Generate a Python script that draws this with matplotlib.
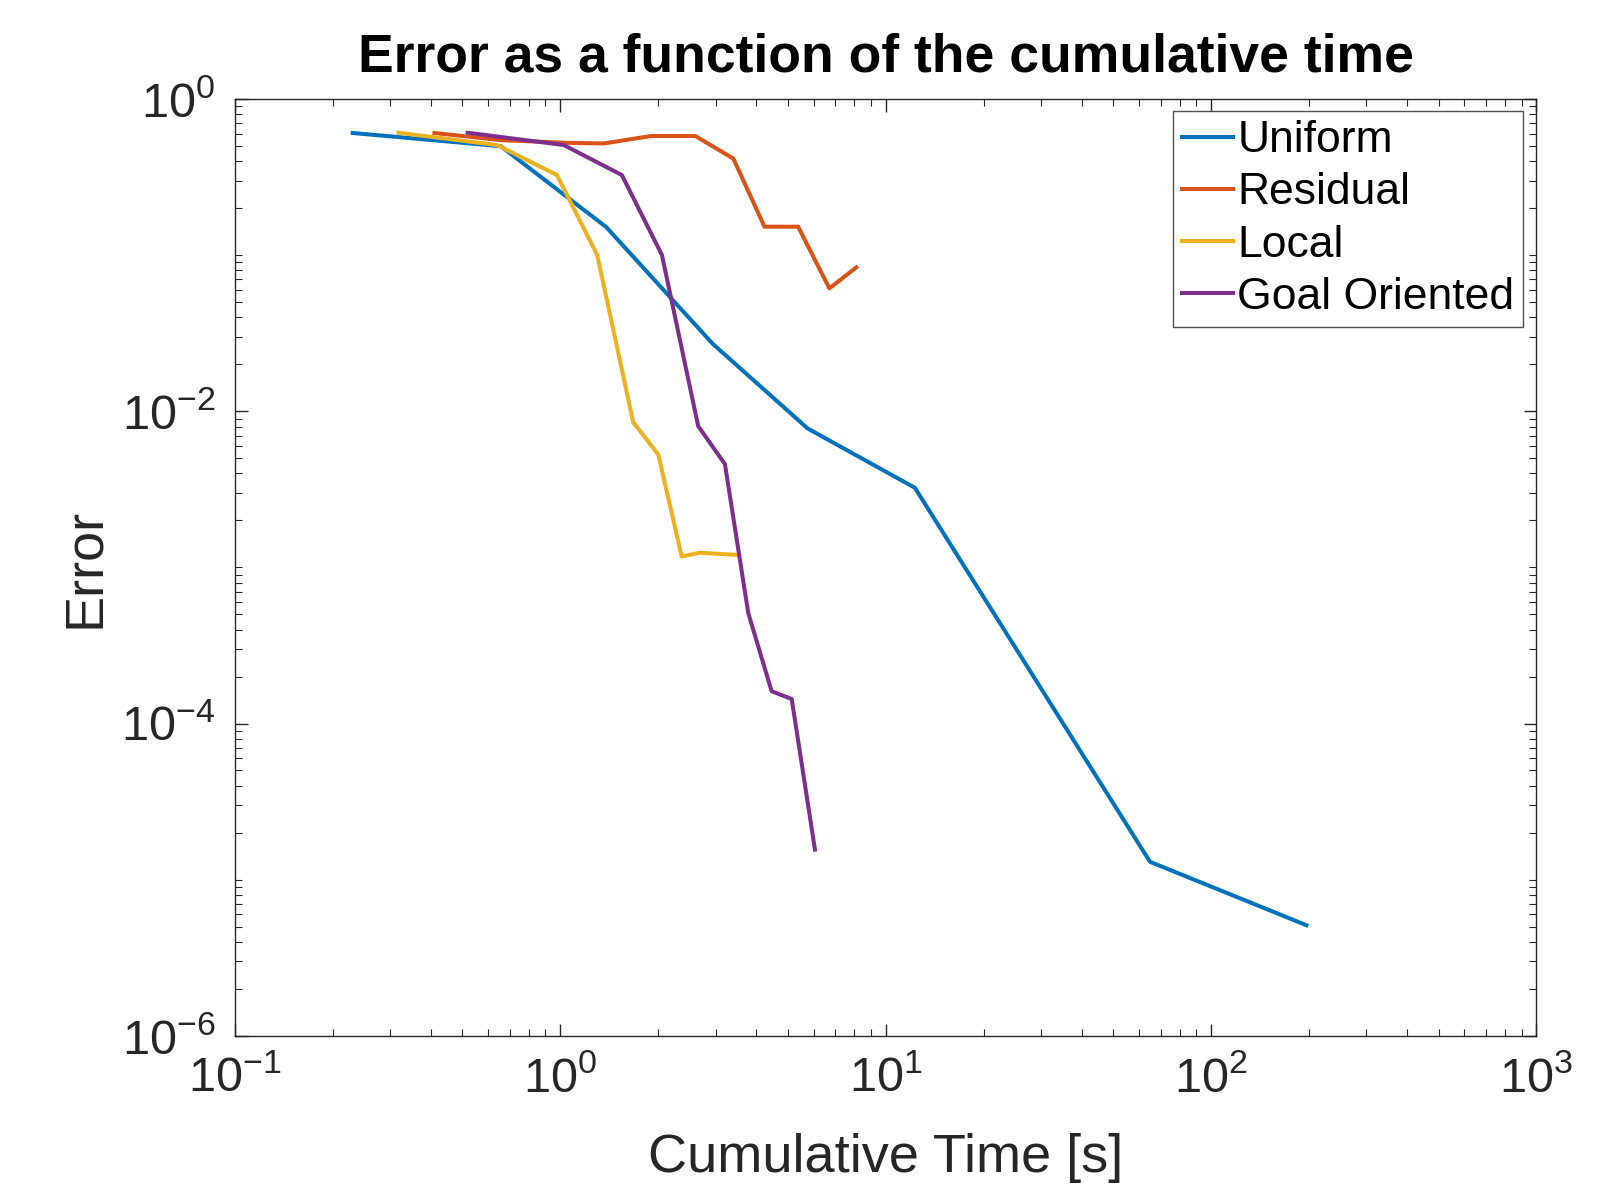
import matplotlib
matplotlib.use("Agg")
import matplotlib.pyplot as plt
from matplotlib.ticker import LogLocator, NullFormatter

plt.rcParams['font.family'] = ['Liberation Sans', 'DejaVu Sans']
plt.rcParams['mathtext.default'] = 'regular'
plt.rcParams['axes.unicode_minus'] = False

# Data
uniform_t = [0.230, 0.656, 1.382, 2.934, 5.75, 12.29, 64.9, 196.3]
uniform_e = [0.608, 0.50, 0.152, 0.0272, 0.00778, 0.00324, 1.30e-5, 5.10e-6]

residual_t = [0.410, 0.656, 1.040, 1.36, 1.896, 2.60, 3.40, 4.24, 5.38, 6.71, 8.12]
residual_e = [0.608, 0.547, 0.526, 0.521, 0.581, 0.581, 0.417, 0.1525, 0.1525, 0.0614, 0.0837]

local_t = [0.318, 0.638, 0.976, 1.298, 1.674, 2.0, 2.36, 2.685, 3.52]
local_e = [0.610, 0.509, 0.327, 0.1004, 0.00853, 0.00528, 0.001175, 0.001242, 0.001202]

goal_t = [0.519, 1.024, 1.545, 2.052, 2.652, 3.205, 3.78, 4.46, 5.14, 6.06]
goal_e = [0.610, 0.509, 0.327, 0.1004, 0.00805, 0.00459, 0.000510, 0.000161, 0.0001436, 1.556e-5]

labels = ["Uniform", "Residual", "Local", "Goal Oriented"]
colors = ["#0072BD", "#D95319", "#EDB120", "#7E2F8E"]

fig = plt.figure(figsize=(16.03, 11.93), dpi=100)
ax = fig.add_axes([0.1466, 0.1319, 0.9585 - 0.1466, 0.9168 - 0.1319])

series = [(uniform_t, uniform_e), (residual_t, residual_e), (local_t, local_e), (goal_t, goal_e)]
for (t, e), lab, c in zip(series, labels, colors):
    ax.plot(t, e, color=c, lw=2.9, label=lab)

ax.set_xscale('log')
ax.set_yscale('log')
ax.set_xlim(0.1, 1000)
ax.set_ylim(1e-6, 1)
ax.set_yticks([1e-6, 1e-4, 1e-2, 1])
ax.set_xticks([0.1, 1, 10, 100, 1000])
ax.xaxis.set_minor_locator(LogLocator(base=10, subs='all', numticks=50))
ax.yaxis.set_minor_locator(LogLocator(base=10, subs='all', numticks=50))
ax.xaxis.set_minor_formatter(NullFormatter())
ax.yaxis.set_minor_formatter(NullFormatter())

dark = '#262626'
for s in ax.spines.values():
    s.set_color(dark)
    s.set_linewidth(1.0)
ax.tick_params(which='both', direction='in', top=True, right=True, colors=dark, labelcolor=dark)
ax.tick_params(which='major', length=9, width=1.0, labelsize=35)
ax.tick_params(axis='x', which='major', pad=15)
ax.tick_params(axis='y', which='major', pad=14)
ax.tick_params(which='minor', length=5, width=0.8)

ax.set_xlabel("Cumulative Time [s]", fontsize=39, color=dark, labelpad=22)
ax.set_ylabel("Error", fontsize=39, color=dark, labelpad=8)
ax.set_title("Error as a function of the cumulative time", fontsize=38.5, fontweight='bold', color='black', pad=20)

leg = ax.legend(loc='upper right', bbox_to_anchor=(0.990, 0.987), fontsize=32, frameon=True, fancybox=False,
                handlelength=1.15, handletextpad=0.1, borderpad=0.2, labelspacing=0.25, borderaxespad=0.0)
leg.get_frame().set_edgecolor(dark)
leg.get_frame().set_linewidth(1.0)

fig.savefig("out.png", dpi=100)
